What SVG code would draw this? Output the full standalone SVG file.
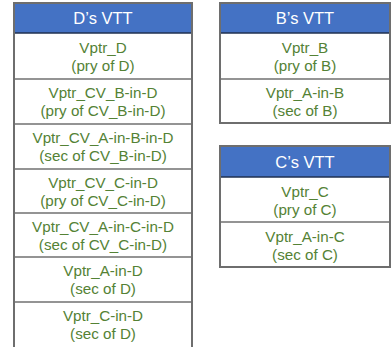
<svg xmlns="http://www.w3.org/2000/svg" width="391" height="347" viewBox="0 0 391 347">
<style>
.hdr{fill:#4472C4}
.outer{fill:none;stroke:#6e6e6e;stroke-width:2}
.line{stroke:#2b2b2b;stroke-width:1.2}
.hline{stroke:#1f3050;stroke-width:1.5}
.ht{font-family:"Liberation Sans",Arial,sans-serif;font-size:16.5px;fill:#ffffff;text-anchor:middle}
.bt{font-family:"Liberation Sans",Arial,sans-serif;font-size:15.2px;fill:#548235;text-anchor:middle}
</style>
<rect width="391" height="347" fill="#ffffff"/>
<g id="d-vtt">
<rect class="hdr" x="14" y="3" width="178" height="30"/>
<line class="hline" x1="14" y1="33" x2="192" y2="33"/>
<text class="ht" x="103" y="24">D’s VTT</text>
<line class="line" x1="14" y1="79" x2="192" y2="79"/>
<line class="line" x1="14" y1="124" x2="192" y2="124"/>
<line class="line" x1="14" y1="169" x2="192" y2="169"/>
<line class="line" x1="14" y1="213" x2="192" y2="213"/>
<line class="line" x1="14" y1="257" x2="192" y2="257"/>
<line class="line" x1="14" y1="302" x2="192" y2="302"/>
<path class="outer" d="M14,347 V3 H192 V347"/>
<text class="bt" x="103" y="52.5">Vptr_D</text>
<text class="bt" x="103" y="70.5">(pry of D)</text>
<text class="bt" x="103" y="97.5">Vptr_CV_B-in-D</text>
<text class="bt" x="103" y="115.5">(pry of CV_B-in-D)</text>
<text class="bt" x="103" y="142.5">Vptr_CV_A-in-B-in-D</text>
<text class="bt" x="103" y="160.5">(sec of CV_B-in-D)</text>
<text class="bt" x="103" y="187.5">Vptr_CV_C-in-D</text>
<text class="bt" x="103" y="205.5">(pry of CV_C-in-D)</text>
<text class="bt" x="103" y="231.5">Vptr_CV_A-in-C-in-D</text>
<text class="bt" x="103" y="249.5">(sec of CV_C-in-D)</text>
<text class="bt" x="103" y="275.5">Vptr_A-in-D</text>
<text class="bt" x="103" y="293.5">(sec of D)</text>
<text class="bt" x="103" y="320.5">Vptr_C-in-D</text>
<text class="bt" x="103" y="338.5">(sec of D)</text>
</g>
<g id="b-vtt">
<rect class="hdr" x="220" y="3" width="170" height="30"/>
<line class="hline" x1="220" y1="33" x2="390" y2="33"/>
<text class="ht" x="305" y="24">B’s VTT</text>
<line class="line" x1="220" y1="79" x2="390" y2="79"/>
<rect class="outer" x="220" y="3" width="170" height="120"/>
<text class="bt" x="305" y="52.5">Vptr_B</text>
<text class="bt" x="305" y="70.5">(pry of B)</text>
<text class="bt" x="305" y="97.5">Vptr_A-in-B</text>
<text class="bt" x="305" y="115.5">(sec of B)</text>
</g>
<g id="c-vtt">
<rect class="hdr" x="220" y="146" width="170" height="31"/>
<line class="hline" x1="220" y1="177" x2="390" y2="177"/>
<text class="ht" x="305" y="168">C’s VTT</text>
<line class="line" x1="220" y1="222" x2="390" y2="222"/>
<rect class="outer" x="220" y="146" width="170" height="121"/>
<text class="bt" x="305" y="196.5">Vptr_C</text>
<text class="bt" x="305" y="214.5">(pry of C)</text>
<text class="bt" x="305" y="241.5">Vptr_A-in-C</text>
<text class="bt" x="305" y="259.5">(sec of C)</text>
</g>
<g id="connectors"></g>
</svg>
